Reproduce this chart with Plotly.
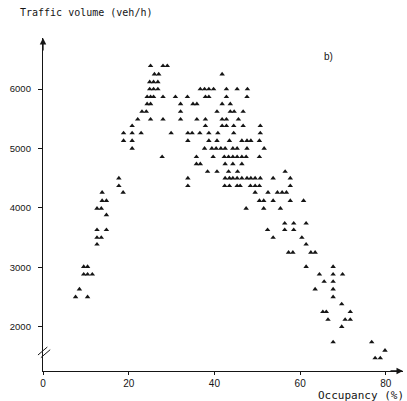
import plotly.graph_objects as go

# Occupancy (%) of each observation, grouped by rows of roughly equal volume
occupancy = [
    25.1, 28.0, 29.0,
    26.0, 27.0, 41.8,
    24.9, 25.8, 26.8,
    24.9, 25.8, 26.8, 36.7, 37.7, 38.7, 39.8, 42.8, 45.3, 47.7,
    24.3, 25.1, 25.8, 28.0, 30.9, 33.7, 37.9, 38.7, 42.8, 47.6,
    24.3, 25.1, 32.1, 35.0, 35.9, 41.8, 43.7,
    23.1, 24.1, 32.1, 40.6, 43.7, 44.6, 46.7,
    22.1, 25.1, 28.0, 32.1, 35.9, 37.9, 41.8, 42.8, 45.6,
    20.8, 37.9, 41.8, 42.8, 44.5, 46.7, 50.7,
    18.8, 20.8, 22.9, 29.9, 33.8, 34.8, 36.6, 38.7, 40.8, 44.5, 50.7,
    18.8, 20.8, 33.8, 38.7, 40.6, 43.5, 46.4, 47.6, 48.5, 50.5,
    20.8, 37.7, 39.4, 40.4, 41.5, 42.5, 44.3, 45.3, 47.6, 51.6,
    27.8, 35.8, 39.7, 42.3, 43.3, 44.3, 45.3, 46.4, 47.4, 50.5,
    35.8, 36.7, 42.5, 44.3, 46.4,
    38.4, 40.6, 43.3, 45.4, 56.5,
    17.7, 33.8, 42.5, 43.5, 44.3, 45.3, 46.4, 47.6, 48.5, 49.5, 50.7, 53.7, 57.7,
    17.7, 33.8, 42.4, 43.5, 45.3, 46.0, 48.4, 49.5, 50.5, 57.7,
    13.8, 18.7, 49.5, 52.5, 54.7, 55.8, 56.8,
    13.8, 14.8, 50.5, 51.5, 53.7, 57.7, 60.8,
    12.6, 13.6, 47.4, 51.5, 55.4,
    14.8,
    56.4, 58.5, 61.4,
    12.6, 14.8, 52.4, 56.4, 58.5,
    12.6, 13.6, 53.7, 60.4,
    12.6, 61.4,
    57.3, 58.3, 62.5, 63.5,
    9.5, 10.4, 61.4, 67.7,
    9.5, 10.4, 11.5, 64.5, 67.7, 69.9,
    65.6, 67.7,
    8.5, 63.5, 67.7,
    7.6, 10.4, 67.7,
    69.7,
    65.3, 66.1, 71.7,
    66.5, 70.5, 71.7,
    69.7,
    67.7, 76.7,
    79.8,
    77.5, 78.7,
]

# Traffic volume (veh/h) of each observation, same order as occupancy
volume = [
    6390, 6390, 6390,
    6250, 6250, 6250,
    6120, 6120, 6120,
    6000, 6000, 6000, 6000, 6000, 6000, 6000, 6000, 6000, 6000,
    5870, 5870, 5870, 5870, 5870, 5870, 5870, 5870, 5870, 5870,
    5750, 5750, 5750, 5750, 5750, 5750, 5750,
    5620, 5620, 5620, 5620, 5620, 5620, 5620,
    5490, 5490, 5490, 5490, 5490, 5490, 5490, 5490, 5490,
    5380, 5380, 5380, 5380, 5380, 5380, 5380,
    5260, 5260, 5260, 5260, 5260, 5260, 5260, 5260, 5260, 5260, 5260,
    5130, 5130, 5130, 5130, 5130, 5130, 5130, 5130, 5130, 5130,
    5000, 5000, 5000, 5000, 5000, 5000, 5000, 5000, 5000, 5000,
    4860, 4860, 4860, 4860, 4860, 4860, 4860, 4860, 4860, 4860,
    4740, 4740, 4740, 4740, 4740,
    4610, 4610, 4610, 4610, 4610,
    4500, 4500, 4500, 4500, 4500, 4500, 4500, 4500, 4500, 4500, 4500, 4500, 4500,
    4370, 4370, 4370, 4370, 4370, 4370, 4370, 4370, 4370, 4370,
    4260, 4260, 4260, 4260, 4260, 4260, 4260,
    4120, 4120, 4120, 4120, 4120, 4120, 4120,
    3990, 3990, 3990, 3990, 3990,
    3880,
    3740, 3740, 3740,
    3630, 3630, 3630, 3630, 3630,
    3500, 3500, 3500, 3500,
    3385, 3385,
    3250, 3250, 3250, 3250,
    3010, 3010, 3010, 3010,
    2880, 2880, 2880, 2880, 2880, 2880,
    2760, 2760,
    2630, 2630, 2630,
    2500, 2500, 2500,
    2380,
    2250, 2250, 2250,
    2120, 2120, 2120,
    2000,
    1740, 1740,
    1600,
    1470, 1470,
]

assert len(occupancy) == len(volume)

x_ticks = [0, 20, 40, 60, 80]
y_ticks = [2000, 3000, 4000, 5000, 6000]

FONT = "Liberation Sans"
TITLE_FONT = "DejaVu Sans Mono"
INK = "#151515"

fig = go.Figure()
fig.add_trace(go.Scatter(
    x=occupancy, y=volume, mode="markers",
    marker=dict(symbol="triangle-up", size=4.8, color=INK, line=dict(width=0)),
    hoverinfo="x+y", showlegend=False,
))

fig.update_layout(
    width=407, height=401,
    margin=dict(l=43, r=4, t=38, b=30),
    paper_bgcolor="white", plot_bgcolor="white",
    font=dict(family=FONT, size=10, color=INK),
    xaxis=dict(
        range=[0, 84], tickvals=x_ticks, ticktext=[str(v) for v in x_ticks],
        showgrid=False, zeroline=False, showline=True, linecolor=INK, linewidth=1.3,
        ticks="outside", ticklen=3, tickcolor=INK, tickwidth=1,
        tickfont=dict(family=FONT, size=10, color=INK),
        ticklabelstandoff=0,
    ),
    yaxis=dict(
        range=[1254, 6860], tickvals=y_ticks, ticktext=[str(v) for v in y_ticks],
        showgrid=False, zeroline=False, showline=True, linecolor=INK, linewidth=1.3,
        ticks="outside", ticklen=4, tickcolor=INK, tickwidth=1,
        tickfont=dict(family=FONT, size=9.5, color=INK),
        ticklabelstandoff=5,
    ),
    annotations=[
        dict(xref="paper", yref="paper", x=-0.069, y=1.078, xanchor="left", yanchor="middle",
             text="Traffic volume (veh/h)", showarrow=False,
             font=dict(family=TITLE_FONT, size=10, color=INK)),
        dict(xref="paper", yref="paper", x=1.008, y=-0.075, xanchor="right", yanchor="middle",
             text="Occupancy (%)", showarrow=False,
             font=dict(family=TITLE_FONT, size=11, color=INK)),
        dict(xref="paper", yref="paper", x=0.775, y=0.943, xanchor="left", yanchor="middle",
             text="b)", showarrow=False, font=dict(family=FONT, size=10, color=INK)),
        # axis arrowheads
        dict(xref="paper", yref="paper", x=0, y=1, ax=0, ay=14, text="", showarrow=True,
             arrowhead=2, arrowsize=1, arrowwidth=1.3, arrowcolor=INK),
        dict(xref="paper", yref="paper", x=1, y=0, ax=-14, ay=0, text="", showarrow=True,
             arrowhead=2, arrowsize=1, arrowwidth=1.3, arrowcolor=INK),
    ],
    shapes=[
        dict(type="line", xref="paper", yref="paper", x0=-0.014, y0=0.048, x1=0.012, y1=0.072,
             line=dict(color=INK, width=1)),
        dict(type="line", xref="paper", yref="paper", x0=-0.006, y0=0.040, x1=0.020, y1=0.064,
             line=dict(color=INK, width=1)),
    ],
)

fig.write_html(
    "out.html",
    config={"displayModeBar": False},
    post_script="document.body.style.margin='0';document.body.style.overflow='hidden';",
)
